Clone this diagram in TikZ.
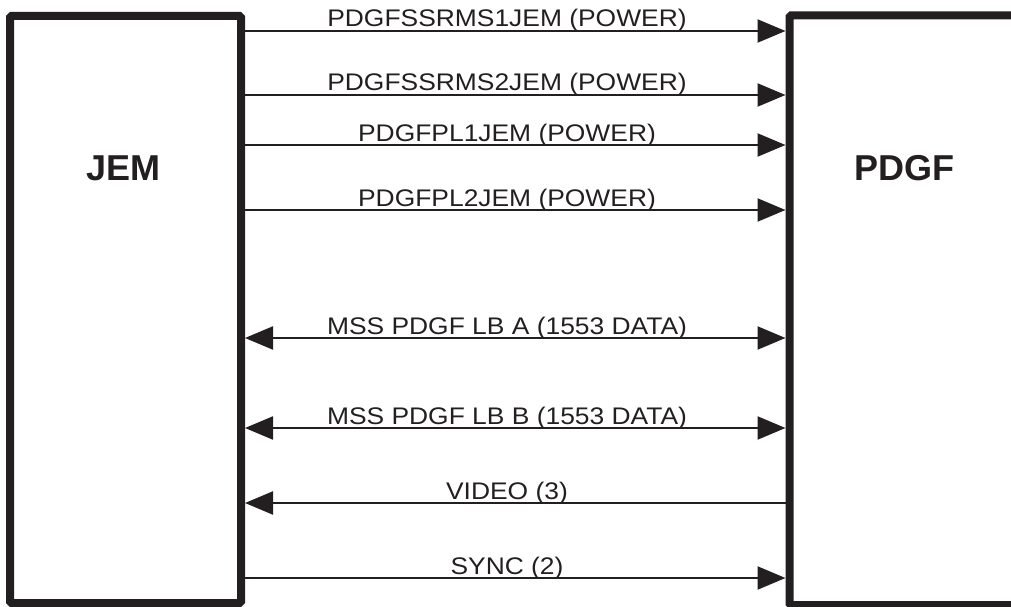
\documentclass[tikz,border=0pt]{standalone}
\usepackage{fontspec}
\setmainfont{Liberation Sans}
\newfontfamily\wirefont[FakeStretch=1.1]{Liberation Sans}
\usetikzlibrary{arrows.meta}

\definecolor{ink}{RGB}{35,31,32}

\tikzset{
  unit/.style={draw=ink, line width=8pt, rounded corners=1.5pt, inner sep=0pt},
  unitname/.style={text=ink, font=\bfseries\fontsize{36}{36}\selectfont},
  wire/.style={draw=ink, line width=2.2pt},
  wirename/.style={text=ink, font=\wirefont\fontsize{24}{24}\selectfont, anchor=base, inner sep=0pt},
  >={Triangle[length=28pt,width=23pt]}
}

\begin{document}
\begin{tikzpicture}[x=1pt, y=-1pt]
  \useasboundingbox (0,0) rectangle (1011,607);
  \clip (0,0) rectangle (1011,607);

  \node[unit, minimum width=231pt, minimum height=587pt] (jem) at (125.5,309.5) {};
  \node[unit, minimum width=270pt, minimum height=589.5pt] (pdgf) at (924.5,310.25) {};
  \node[unitname] (jemname) at (123.5,168.5) {JEM};
  \node[unitname] (pdgfname) at (904,168.5) {PDGF};

  % power feeds
  \draw[wire, ->] (jem.east |- 0,31) -- (pdgf.west |- 0,31);
  \draw[wire, ->] (jem.east |- 0,95) -- (pdgf.west |- 0,95);
  \draw[wire, ->] (jem.east |- 0,145) -- (pdgf.west |- 0,145);
  \draw[wire, ->] (jem.east |- 0,210) -- (pdgf.west |- 0,210);
  \node[wirename] (pw1) at (507,27) {PDGFSSRMS1JEM (POWER)};
  \node[wirename] (pw2) at (507,91) {PDGFSSRMS2JEM (POWER)};
  \node[wirename] (pw3) at (507,141) {PDGFPL1JEM (POWER)};
  \node[wirename] (pw4) at (507,206) {PDGFPL2JEM (POWER)};

  % data, video and sync
  \draw[wire, <->] (jem.east |- 0,338) -- (pdgf.west |- 0,338);
  \draw[wire, <->] (jem.east |- 0,428) -- (pdgf.west |- 0,428);
  \draw[wire, <-] (jem.east |- 0,503) -- (pdgf.west |- 0,503);
  \draw[wire, ->] (jem.east |- 0,578) -- (pdgf.west |- 0,578);
  \node[wirename] (lba) at (507,334) {MSS PDGF LB A (1553 DATA)};
  \node[wirename] (lbb) at (507,424) {MSS PDGF LB B (1553 DATA)};
  \node[wirename] (video) at (507,499) {VIDEO (3)};
  \node[wirename] (sync) at (507,574) {SYNC (2)};
\end{tikzpicture}
\end{document}
